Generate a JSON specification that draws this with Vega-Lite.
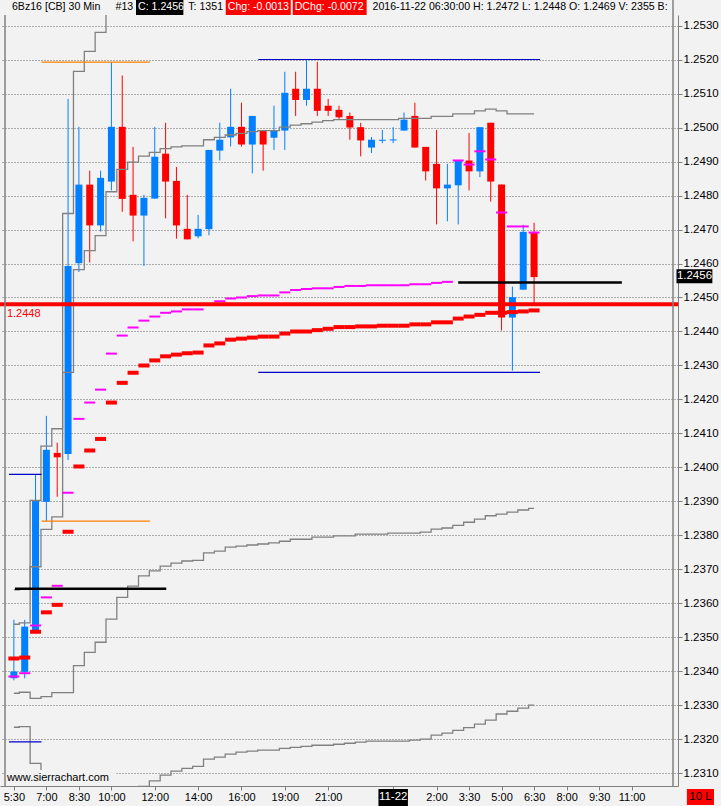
{
  "$schema": "https://vega.github.io/schema/vega-lite/v6.json",
  "width": 678,
  "height": 771,
  "autosize": {"type": "none"},
  "padding": {"left": 0, "top": 15, "right": 43, "bottom": 20},
  "background": "#f2f2f2",
  "config": {
    "view": {"stroke": null, "fill": "#f2f2f2"},
    "font": "Liberation Sans",
    "text": {"font": "Liberation Sans"}
  },
  "datasets": {
    "candles": [
      {"bar": 0, "time": "05:30", "open": 1.2338, "high": 1.23552, "low": 1.23374, "close": 1.234},
      {"bar": 1, "time": "06:00", "open": 1.23399, "high": 1.23552, "low": 1.2338, "close": 1.23532},
      {"bar": 2, "time": "06:30", "open": 1.23522, "high": 1.2398, "low": 1.23522, "close": 1.23903},
      {"bar": 3, "time": "07:00", "open": 1.23899, "high": 1.24152, "low": 1.23842, "close": 1.24052},
      {"bar": 4, "time": "07:30", "open": 1.24043, "high": 1.24073, "low": 1.23914, "close": 1.2403},
      {"bar": 5, "time": "08:00", "open": 1.2404, "high": 1.25084, "low": 1.24022, "close": 1.24593},
      {"bar": 6, "time": "08:30", "open": 1.24601, "high": 1.25002, "low": 1.24575, "close": 1.24832},
      {"bar": 7, "time": "09:00", "open": 1.24832, "high": 1.24873, "low": 1.24603, "close": 1.24712},
      {"bar": 8, "time": "09:30", "open": 1.24712, "high": 1.24873, "low": 1.24694, "close": 1.24852},
      {"bar": 9, "time": "10:00", "open": 1.24841, "high": 1.25192, "low": 1.24815, "close": 1.25002},
      {"bar": 10, "time": "10:30", "open": 1.25002, "high": 1.25153, "low": 1.24752, "close": 1.2479},
      {"bar": 11, "time": "11:00", "open": 1.24802, "high": 1.24943, "low": 1.24665, "close": 1.24741},
      {"bar": 12, "time": "11:30", "open": 1.24741, "high": 1.24802, "low": 1.24593, "close": 1.24793},
      {"bar": 13, "time": "12:00", "open": 1.24791, "high": 1.25002, "low": 1.2479, "close": 1.24914},
      {"bar": 14, "time": "12:30", "open": 1.24923, "high": 1.25014, "low": 1.24733, "close": 1.24841},
      {"bar": 15, "time": "13:00", "open": 1.24843, "high": 1.24884, "low": 1.24673, "close": 1.24712},
      {"bar": 16, "time": "13:30", "open": 1.24702, "high": 1.24802, "low": 1.24671, "close": 1.24671},
      {"bar": 17, "time": "14:00", "open": 1.2468, "high": 1.24743, "low": 1.24674, "close": 1.24702},
      {"bar": 18, "time": "14:30", "open": 1.24701, "high": 1.24934, "low": 1.24683, "close": 1.24934},
      {"bar": 19, "time": "15:00", "open": 1.24932, "high": 1.25014, "low": 1.24903, "close": 1.24964},
      {"bar": 20, "time": "15:30", "open": 1.24971, "high": 1.25114, "low": 1.24944, "close": 1.25002},
      {"bar": 21, "time": "16:00", "open": 1.25002, "high": 1.25073, "low": 1.24944, "close": 1.2495},
      {"bar": 22, "time": "16:30", "open": 1.2495, "high": 1.25034, "low": 1.24865, "close": 1.25034},
      {"bar": 23, "time": "18:00", "open": 1.24991, "high": 1.24991, "low": 1.24873, "close": 1.2495},
      {"bar": 24, "time": "18:30", "open": 1.2497, "high": 1.25064, "low": 1.24934, "close": 1.24991},
      {"bar": 25, "time": "19:00", "open": 1.24991, "high": 1.25164, "low": 1.24934, "close": 1.25102},
      {"bar": 26, "time": "19:30", "open": 1.25114, "high": 1.25164, "low": 1.25034, "close": 1.25081},
      {"bar": 27, "time": "20:00", "open": 1.25081, "high": 1.252, "low": 1.25064, "close": 1.25114},
      {"bar": 28, "time": "20:30", "open": 1.25114, "high": 1.25193, "low": 1.25034, "close": 1.25049},
      {"bar": 29, "time": "21:00", "open": 1.25064, "high": 1.25084, "low": 1.25034, "close": 1.25049},
      {"bar": 30, "time": "21:30", "open": 1.25052, "high": 1.25064, "low": 1.25023, "close": 1.2503},
      {"bar": 31, "time": "22:00", "open": 1.25034, "high": 1.25044, "low": 1.24964, "close": 1.25},
      {"bar": 32, "time": "22:30", "open": 1.25001, "high": 1.25014, "low": 1.24915, "close": 1.24962},
      {"bar": 33, "time": "23:00", "open": 1.24941, "high": 1.24972, "low": 1.24925, "close": 1.24964},
      {"bar": 34, "time": "23:30", "open": 1.24961, "high": 1.24993, "low": 1.24954, "close": 1.24964},
      {"bar": 35, "time": "00:00", "open": 1.24962, "high": 1.25001, "low": 1.24954, "close": 1.24965},
      {"bar": 36, "time": "00:30", "open": 1.24991, "high": 1.25044, "low": 1.24991, "close": 1.25023},
      {"bar": 37, "time": "01:00", "open": 1.25034, "high": 1.25073, "low": 1.24941, "close": 1.24941},
      {"bar": 38, "time": "01:30", "open": 1.24943, "high": 1.24943, "low": 1.24844, "close": 1.24871},
      {"bar": 39, "time": "02:00", "open": 1.24893, "high": 1.24993, "low": 1.24715, "close": 1.24821},
      {"bar": 40, "time": "02:30", "open": 1.24821, "high": 1.24893, "low": 1.24724, "close": 1.24832},
      {"bar": 41, "time": "03:00", "open": 1.2483, "high": 1.24903, "low": 1.24715, "close": 1.24903},
      {"bar": 42, "time": "03:30", "open": 1.24903, "high": 1.24984, "low": 1.24815, "close": 1.24871},
      {"bar": 43, "time": "04:00", "open": 1.24871, "high": 1.25001, "low": 1.24854, "close": 1.25001},
      {"bar": 44, "time": "04:30", "open": 1.25014, "high": 1.25014, "low": 1.24782, "close": 1.24841},
      {"bar": 45, "time": "05:00", "open": 1.24832, "high": 1.24832, "low": 1.24403, "close": 1.24441},
      {"bar": 46, "time": "05:30", "open": 1.24441, "high": 1.24532, "low": 1.24285, "close": 1.24501},
      {"bar": 47, "time": "06:00", "open": 1.24523, "high": 1.24714, "low": 1.24523, "close": 1.24693},
      {"bar": 48, "time": "06:30", "open": 1.2469, "high": 1.2472, "low": 1.2448, "close": 1.2456}
    ],
    "studies": [
      {"bar": 0, "vwap": 1.23438, "mag": 1.23385, "u2": 1.2364, "u1": 1.23539, "l1": 1.23336, "l2": 1.23236},
      {"bar": 1, "vwap": 1.23441, "mag": 1.23395, "u2": 1.23643, "u1": 1.23543, "l1": 1.23339, "l2": 1.23238},
      {"bar": 2, "vwap": 1.23517, "mag": 1.23535, "u2": 1.23903, "u1": 1.23708, "l1": 1.23321, "l2": 1.2313},
      {"bar": 3, "vwap": 1.23574, "mag": 1.23618, "u2": 1.24063, "u1": 1.23818, "l1": 1.23326, "l2": 1.23078},
      {"bar": 4, "vwap": 1.23596, "mag": 1.23652, "u2": 1.24114, "u1": 1.23855, "l1": 1.23338, "l2": 1.2308},
      {"bar": 5, "vwap": 1.23811, "mag": 1.23926, "u2": 1.24747, "u1": 1.2428, "l1": 1.23338, "l2": 1.22865},
      {"bar": 6, "vwap": 1.24003, "mag": 1.24143, "u2": 1.25165, "u1": 1.24582, "l1": 1.23417, "l2": 1.22831},
      {"bar": 7, "vwap": 1.2405, "mag": 1.24191, "u2": 1.25224, "u1": 1.24638, "l1": 1.23456, "l2": 1.22862},
      {"bar": 8, "vwap": 1.24084, "mag": 1.24229, "u2": 1.2528, "u1": 1.24682, "l1": 1.23486, "l2": 1.22888},
      {"bar": 9, "vwap": 1.24191, "mag": 1.24335, "u2": 1.25465, "u1": 1.24811, "l1": 1.23554, "l2": 1.22917},
      {"bar": 10, "vwap": 1.24249, "mag": 1.24388, "u2": 1.2551, "u1": 1.24877, "l1": 1.23618, "l2": 1.22987},
      {"bar": 11, "vwap": 1.24279, "mag": 1.24412, "u2": null, "u1": 1.24898, "l1": 1.23651, "l2": 1.23023},
      {"bar": 12, "vwap": 1.243, "mag": 1.24432, "u2": null, "u1": 1.24916, "l1": 1.23681, "l2": 1.23062},
      {"bar": 13, "vwap": 1.24315, "mag": 1.24444, "u2": null, "u1": 1.24927, "l1": 1.23696, "l2": 1.23078},
      {"bar": 14, "vwap": 1.24327, "mag": 1.24455, "u2": null, "u1": 1.24938, "l1": 1.2371, "l2": 1.23095},
      {"bar": 15, "vwap": 1.24332, "mag": 1.24459, "u2": null, "u1": 1.24943, "l1": 1.23719, "l2": 1.23107},
      {"bar": 16, "vwap": 1.24336, "mag": 1.24465, "u2": null, "u1": 1.24946, "l1": 1.23725, "l2": 1.23115},
      {"bar": 17, "vwap": 1.24338, "mag": 1.24465, "u2": null, "u1": 1.24946, "l1": 1.23727, "l2": 1.23121},
      {"bar": 18, "vwap": 1.24359, "mag": 1.24479, "u2": null, "u1": 1.24964, "l1": 1.23749, "l2": 1.23142},
      {"bar": 19, "vwap": 1.24365, "mag": 1.24489, "u2": null, "u1": 1.24971, "l1": 1.23754, "l2": 1.23148},
      {"bar": 20, "vwap": 1.24376, "mag": 1.24497, "u2": null, "u1": 1.24978, "l1": 1.23766, "l2": 1.23157},
      {"bar": 21, "vwap": 1.24379, "mag": 1.245, "u2": null, "u1": 1.24983, "l1": 1.23769, "l2": 1.23163},
      {"bar": 22, "vwap": 1.24382, "mag": 1.24504, "u2": null, "u1": 1.24988, "l1": 1.23772, "l2": 1.23166},
      {"bar": 23, "vwap": 1.24385, "mag": 1.24506, "u2": null, "u1": 1.24991, "l1": 1.23775, "l2": 1.23169},
      {"bar": 24, "vwap": 1.24385, "mag": 1.24506, "u2": null, "u1": 1.24991, "l1": 1.23778, "l2": 1.23169},
      {"bar": 25, "vwap": 1.24394, "mag": 1.24515, "u2": null, "u1": 1.25001, "l1": 1.23783, "l2": 1.23174},
      {"bar": 26, "vwap": 1.244, "mag": 1.24522, "u2": null, "u1": 1.25007, "l1": 1.23789, "l2": 1.23177},
      {"bar": 27, "vwap": 1.244, "mag": 1.24525, "u2": null, "u1": 1.25011, "l1": 1.23789, "l2": 1.2318},
      {"bar": 28, "vwap": 1.24404, "mag": 1.24527, "u2": null, "u1": 1.25016, "l1": 1.23795, "l2": 1.23183},
      {"bar": 29, "vwap": 1.24408, "mag": 1.24527, "u2": null, "u1": 1.2502, "l1": 1.23795, "l2": 1.23183},
      {"bar": 30, "vwap": 1.24413, "mag": 1.24531, "u2": null, "u1": 1.25023, "l1": 1.23799, "l2": 1.23186},
      {"bar": 31, "vwap": 1.24413, "mag": 1.24534, "u2": null, "u1": 1.25023, "l1": 1.23799, "l2": 1.23189},
      {"bar": 32, "vwap": 1.24415, "mag": 1.24534, "u2": null, "u1": 1.25023, "l1": 1.23804, "l2": 1.23192},
      {"bar": 33, "vwap": 1.24415, "mag": 1.24536, "u2": null, "u1": 1.25023, "l1": 1.23804, "l2": 1.23195},
      {"bar": 34, "vwap": 1.24417, "mag": 1.24536, "u2": null, "u1": 1.25023, "l1": 1.23804, "l2": 1.23195},
      {"bar": 35, "vwap": 1.24417, "mag": 1.24536, "u2": null, "u1": 1.25023, "l1": 1.23807, "l2": 1.23195},
      {"bar": 36, "vwap": 1.24417, "mag": 1.24536, "u2": null, "u1": 1.25027, "l1": 1.23807, "l2": 1.23195},
      {"bar": 37, "vwap": 1.24421, "mag": 1.24539, "u2": null, "u1": 1.25027, "l1": 1.23807, "l2": 1.23198},
      {"bar": 38, "vwap": 1.24421, "mag": 1.24539, "u2": null, "u1": 1.25027, "l1": 1.2381, "l2": 1.23201},
      {"bar": 39, "vwap": 1.24427, "mag": 1.24543, "u2": null, "u1": 1.25033, "l1": 1.23819, "l2": 1.23213},
      {"bar": 40, "vwap": 1.24427, "mag": 1.24546, "u2": null, "u1": 1.25033, "l1": 1.23822, "l2": 1.23219},
      {"bar": 41, "vwap": 1.24438, "mag": 1.24903, "u2": null, "u1": 1.2504, "l1": 1.2383, "l2": 1.23227},
      {"bar": 42, "vwap": 1.24444, "mag": 1.24891, "u2": null, "u1": 1.2504, "l1": 1.23839, "l2": 1.23235},
      {"bar": 43, "vwap": 1.24449, "mag": 1.2493, "u2": null, "u1": 1.25049, "l1": 1.23848, "l2": 1.23245},
      {"bar": 44, "vwap": 1.24455, "mag": 1.24906, "u2": null, "u1": 1.25054, "l1": 1.23858, "l2": 1.23257},
      {"bar": 45, "vwap": 1.24455, "mag": 1.2475, "u2": null, "u1": 1.25049, "l1": 1.23863, "l2": 1.23275},
      {"bar": 46, "vwap": 1.24457, "mag": 1.24709, "u2": null, "u1": 1.2504, "l1": 1.23869, "l2": 1.23283},
      {"bar": 47, "vwap": 1.24459, "mag": 1.24709, "u2": null, "u1": 1.2504, "l1": 1.23875, "l2": 1.23292},
      {"bar": 48, "vwap": 1.24462, "mag": 1.24691, "u2": null, "u1": 1.2504, "l1": 1.2388, "l2": 1.23301}
    ],
    "levels": [
      {"kind": "range", "price": 1.25192, "from": 2.55, "to": 12.55},
      {"kind": "range", "price": 1.23842, "from": 2.55, "to": 12.55},
      {"kind": "extreme", "price": 1.252, "from": 22.55, "to": 48.55},
      {"kind": "extreme", "price": 1.2428, "from": 22.55, "to": 48.55},
      {"kind": "extreme", "price": 1.2398, "from": -0.45, "to": 2.55},
      {"kind": "extreme", "price": 1.23193, "from": -0.45, "to": 2.55},
      {"kind": "reference", "price": 1.24544, "from": 41.0, "to": 56.1},
      {"kind": "reference", "price": 1.23643, "from": 0.1, "to": 14.06}
    ],
    "header": [
      {"seg": "6Bz16 [CB]  30 Min", "from": -0.36, "to": -0.36, "style": "plain"},
      {"seg": "#13", "from": 9.2, "to": 9.2, "style": "plain"},
      {"seg": "C: 1.2456", "from": 11.27, "to": 15.64, "style": "dark"},
      {"seg": "T: 1351", "from": 15.91, "to": 15.91, "style": "plain"},
      {"seg": "Chg: -0.0013", "from": 19.55, "to": 25.55, "style": "alert"},
      {"seg": "DChg: -0.0072", "from": 25.73, "to": 32.55, "style": "alert"},
      {"seg": "2016-11-22 06:30:00 H: 1.2472 L: 1.2448 O: 1.2469 V: 2355 B:", "from": 32.91, "to": 32.91, "style": "plain"}
    ],
    "tags": [
      {"tag": "watermark", "text": "www.sierrachart.com", "from": -0.818, "to": 9.45, "top": 1.2311, "bottom": 1.230632, "at": -0.64, "mid": 1.23087, "style": "blank"},
      {"tag": "last", "text": "1.2456", "from": 61.14, "to": 64.45, "top": 1.24583, "bottom": 1.24542, "at": 62.8, "mid": 1.24562, "style": "dark"},
      {"tag": "date", "text": "11-22", "from": 33.64, "to": 36.36, "top": 1.230544, "bottom": 1.230044, "at": 35, "mid": 1.230294, "style": "dark"},
      {"tag": "alert", "text": "10 L", "from": 62.1, "to": 64.6, "top": 1.230544, "bottom": 1.230074, "at": 63.35, "mid": 1.230309, "style": "alert"}
    ]
  },
  "layer": [
    {
      "data": {"name": "candles"},
      "mark": {"type": "rule", "strokeWidth": 1, "clip": true},
      "encoding": {
        "x": {
          "field": "bar",
          "type": "quantitative",
          "scale": {"domain": [-0.818, 60.818], "nice": false, "zero": false},
          "axis": {
            "orient": "bottom",
            "title": null,
            "grid": false,
            "values": [0, 3, 6, 9, 13, 17, 21, 25, 29, 35, 39, 42, 45, 48, 51, 54, 57],
            "tickCount": 40,
            "labelExpr": "['5:30','7:00','8:30','10:00','12:00','14:00','16:00','19:00','21:00','','2:00','3:30','5:00','6:30','8:00','9:30','11:00'][indexof([0,3,6,9,13,17,21,25,29,35,39,42,45,48,51,54,57], datum.value)]",
            "domainColor": "#808080",
            "tickColor": "#808080",
            "tickSize": 4,
            "labelFontSize": 11,
            "labelColor": "#000000",
            "labelPadding": 1,
            "labelFlush": false,
            "labelOverlap": false
          }
        },
        "y": {
          "field": "low",
          "type": "quantitative",
          "scale": {"domain": [1.230632, 1.253309], "nice": false, "zero": false},
          "axis": {
            "orient": "right",
            "title": null,
            "values": [1.231, 1.232, 1.233, 1.234, 1.235, 1.236, 1.237, 1.238, 1.239, 1.24, 1.241, 1.242, 1.243, 1.244, 1.245, 1.246, 1.247, 1.248, 1.249, 1.25, 1.251, 1.252, 1.253],
            "tickCount": 40,
            "format": ".4f",
            "grid": true,
            "gridDash": [1, 2],
            "gridColor": "#666666",
            "domainColor": "#808080",
            "tickColor": "#808080",
            "tickSize": 4,
            "labelFontSize": 11.5,
            "labelColor": "#000000",
            "labelPadding": 1,
            "labelFlush": false,
            "labelOverlap": false,
            "labelBound": false
          }
        },
        "y2": {"field": "high"},
        "color": {"condition": {"test": "datum.close >= datum.open", "value": "#0080ff"}, "value": "#ff0000"}
      }
    },
    {
      "data": {"name": "candles"},
      "mark": {"type": "bar", "size": 7, "clip": true},
      "encoding": {
        "x": {"field": "bar", "type": "quantitative"},
        "y": {"field": "open", "type": "quantitative"},
        "y2": {"field": "close"},
        "color": {"condition": {"test": "datum.close >= datum.open", "value": "#0080ff"}, "value": "#ff0000"}
      }
    },
    {
      "data": {"name": "studies"},
      "transform": [{"fold": ["u2", "u1", "l1", "l2"], "as": ["band", "value"]}],
      "mark": {"type": "line", "interpolate": "step", "color": "#808080", "strokeWidth": 1.3, "clip": true},
      "encoding": {
        "x": {"field": "bar", "type": "quantitative"},
        "y": {"field": "value", "type": "quantitative"},
        "detail": {"field": "band"}
      }
    },
    {
      "data": {"name": "studies"},
      "mark": {"type": "tick", "orient": "horizontal", "size": 11, "thickness": 4, "color": "#ff0000", "opacity": 1, "clip": true},
      "encoding": {
        "x": {"field": "bar", "type": "quantitative"},
        "y": {"field": "vwap", "type": "quantitative"}
      }
    },
    {
      "data": {"name": "studies"},
      "mark": {"type": "tick", "orient": "horizontal", "size": 11, "thickness": 2, "color": "#ff00ff", "opacity": 1, "clip": true},
      "encoding": {
        "x": {"field": "bar", "type": "quantitative"},
        "y": {"field": "mag", "type": "quantitative"}
      }
    },
    {
      "data": {"name": "levels"},
      "mark": {"type": "rule", "clip": true},
      "encoding": {
        "x": {"field": "from", "type": "quantitative"},
        "x2": {"field": "to"},
        "y": {"field": "price", "type": "quantitative"},
        "color": {
          "condition": [
            {"test": "datum.kind === 'range'", "value": "#ff8000"},
            {"test": "datum.kind === 'extreme'", "value": "#0000cc"}
          ],
          "value": "#000000"
        },
        "strokeWidth": {"condition": {"test": "datum.kind === 'reference'", "value": 2.5}, "value": 1.2}
      }
    },
    {
      "data": {"values": [{"label": "1.2448", "price": 1.2448, "edge": -0.64}]},
      "mark": {"type": "rule", "color": "#ff0000", "strokeWidth": 4},
      "encoding": {"y": {"field": "price", "type": "quantitative"}}
    },
    {
      "data": {"values": [{"label": "1.2448", "price": 1.2448, "edge": -0.64}]},
      "mark": {"type": "text", "color": "#ff0000", "fontSize": 11, "align": "left", "baseline": "top", "dy": 4},
      "encoding": {
        "x": {"field": "edge", "type": "quantitative"},
        "y": {"field": "price", "type": "quantitative"},
        "text": {"field": "label"}
      }
    },
    {
      "data": {"name": "tags"},
      "mark": {"type": "rect"},
      "encoding": {
        "x": {"field": "from", "type": "quantitative"},
        "x2": {"field": "to"},
        "y": {"field": "top", "type": "quantitative"},
        "y2": {"field": "bottom"},
        "color": {
          "condition": [
            {"test": "datum.style === 'dark'", "value": "#000000"},
            {"test": "datum.style === 'alert'", "value": "#ff0000"}
          ],
          "value": "#f2f2f2"
        }
      }
    },
    {
      "data": {"name": "tags"},
      "transform": [{"filter": "datum.style !== 'blank'"}],
      "mark": {"type": "text", "fontSize": 11.5, "align": "center", "baseline": "middle"},
      "encoding": {
        "x": {"field": "at", "type": "quantitative"},
        "y": {"field": "mid", "type": "quantitative"},
        "text": {"field": "text"},
        "color": {"condition": {"test": "datum.style === 'dark'", "value": "#ffffff"}, "value": "#000000"}
      }
    },
    {
      "data": {"name": "tags"},
      "transform": [{"filter": "datum.style === 'blank'"}],
      "mark": {"type": "text", "fontSize": 11, "align": "left", "baseline": "middle", "color": "#000000"},
      "encoding": {
        "x": {"field": "at", "type": "quantitative"},
        "y": {"field": "mid", "type": "quantitative"},
        "text": {"field": "text"}
      }
    },
    {
      "data": {"values": [{"side": "left", "at": -0.818, "top": 1.253309, "bottom": 1.230632}, {"side": "right", "at": 60.818, "top": 1.25375, "bottom": 1.230632}]},
      "mark": {"type": "rule", "color": "#808080", "strokeWidth": 1.5},
      "encoding": {
        "x": {"field": "at", "type": "quantitative"},
        "y": {"field": "top", "type": "quantitative"},
        "y2": {"field": "bottom"}
      }
    },
    {
      "data": {"name": "header"},
      "transform": [{"filter": "datum.style !== 'plain'"}],
      "mark": {"type": "rect"},
      "encoding": {
        "x": {"field": "from", "type": "quantitative"},
        "x2": {"field": "to"},
        "y": {"datum": 1.25375},
        "y2": {"datum": 1.253309},
        "color": {"condition": {"test": "datum.style === 'dark'", "value": "#000000"}, "value": "#ff0000"}
      }
    },
    {
      "data": {"name": "header"},
      "mark": {"type": "text", "fontSize": 10.6, "align": "left", "baseline": "middle", "dx": 2},
      "encoding": {
        "x": {"field": "from", "type": "quantitative"},
        "y": {"datum": 1.25353},
        "text": {"field": "seg"},
        "color": {"condition": {"test": "datum.style === 'plain'", "value": "#000000"}, "value": "#ffffff"}
      }
    }
  ]
}
